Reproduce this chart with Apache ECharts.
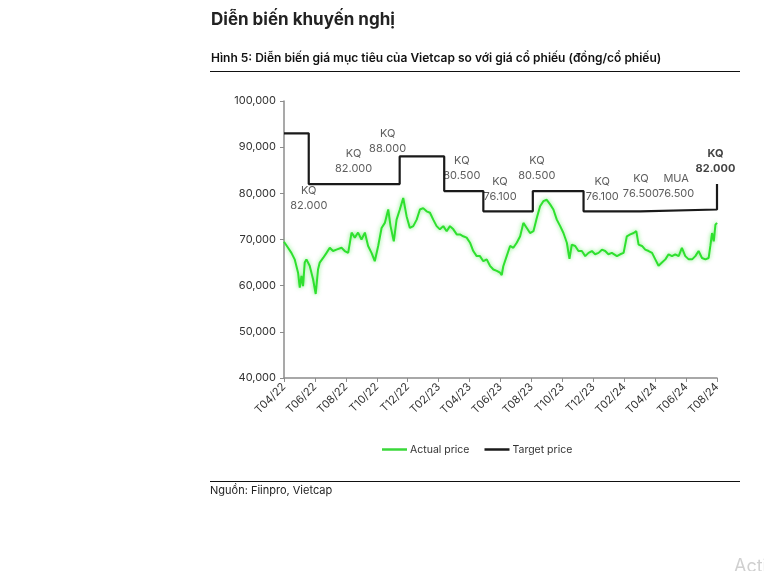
<!DOCTYPE html>
<html>
<head>
<meta charset="utf-8">
<script src="https://cdn.jsdelivr.net/npm/echarts@6/dist/echarts.min.js"></script>
<style>
  html, body { margin: 0; padding: 0; background: #fff; }
  #chart { width: 764px; height: 571px; }
</style>
</head>
<body>
<div id="chart"></div>
<script>
// x values are months since 01/04/2022
const tickLabels = ['T04/22', 'T06/22', 'T08/22', 'T10/22', 'T12/22', 'T02/23', 'T04/23', 'T06/23',
  'T08/23', 'T10/23', 'T12/23', 'T02/24', 'T04/24', 'T06/24', 'T08/24']

const priceMonths = [
  0.00, 0.26, 0.48, 0.69, 0.91, 1.02, 1.13, 1.23, 1.34, 1.45, 1.66, 1.88, 2.05, 2.20, 2.31, 2.53,
  2.75, 2.96, 3.17, 3.39, 3.72, 3.93, 4.15, 4.37, 4.58, 4.79, 5.01, 5.23, 5.44, 5.66, 5.87, 6.09,
  6.31, 6.52, 6.74, 6.89, 7.10, 7.28, 7.49, 7.71, 7.93, 8.14, 8.36, 8.58, 8.79, 9.00, 9.22, 9.44,
  9.65, 9.87, 10.08, 10.30, 10.52, 10.73, 10.95, 11.17, 11.38, 11.59, 11.81, 12.03, 12.24, 12.46,
  12.67, 12.89, 13.11, 13.32, 13.54, 13.76, 13.97, 14.08, 14.18, 14.40, 14.62, 14.83, 15.05, 15.27,
  15.48, 15.70, 15.91, 16.13, 16.35, 16.56, 16.77, 16.99, 17.21, 17.42, 17.64, 17.86, 18.07, 18.29,
  18.46, 18.61, 18.83, 19.04, 19.26, 19.48, 19.69, 19.91, 20.12, 20.34, 20.56, 20.77, 20.98, 21.20,
  21.53, 21.74, 21.96, 22.17, 22.39, 22.61, 22.78, 22.93, 23.15, 23.36, 23.58, 23.80, 24.01, 24.22,
  24.44, 24.66, 24.87, 25.09, 25.30, 25.52, 25.73, 25.95, 26.17, 26.39, 26.60, 26.81, 27.03, 27.25,
  27.46, 27.57, 27.68, 27.79, 27.90, 28.00
]
const actualPrice = [
  69500, 68200, 67100, 65700, 62800, 59600, 62100, 59900, 65000, 65700, 64300, 61400, 58200, 63500, 65000, 66000,
  67100, 68200, 67500, 67800, 68200, 67500, 67100, 71500, 70400, 71500, 70000, 71500, 68600, 67100, 65300, 68600,
  72500, 73600, 76500, 72900, 69600, 74300, 76500, 79000, 75000, 72500, 72900, 74300, 76500, 76800, 76100, 75800,
  74300, 72900, 72200, 72900, 71800, 72900, 72200, 71100, 71100, 70700, 70400, 69300, 67500, 66400,
  66400, 65300, 65700, 64300, 63500, 63200, 62800, 62300, 64200, 66400, 68600, 68200, 69300, 70700,
  73600, 72500, 71400, 71800, 74700, 77200, 78300, 78600, 77600, 76500, 74300, 72900, 71400, 69300,
  65800, 68900, 68600, 67500, 67500, 66400, 67100, 67500, 66800, 67100, 67800, 67500, 66800, 67100,
  66400, 66800, 67100, 70700, 71100, 71400, 71800, 68900, 68600, 67800, 67500, 67100, 65700, 64300,
  65000, 65700, 66800, 66400, 66800, 66400, 68200, 66400, 65700, 65700, 66400, 67500, 66000, 65700,
  66000, 68600, 71400, 69600, 73200, 73600
]

// target price changes
const targetMonths = [0, 1.60, 7.48, 10.36, 12.89, 16.09, 19.37, 23.04, 28]
const targetPrice = [93000, 82000, 88000, 80500, 76100, 80500, 76100, 76500, 82000]

// recommendation notes: [month, price level of the note]
const noteMonths = [1.6, 4.5, 6.7, 11.5, 13.97, 16.35, 20.58, 23.08, 25.36, 27.9]
const noteLevels = [79000, 87000, 91400, 85500, 81000, 85500, 81000, 81500, 81500, 87000]
const noteTexts = ['KQ\n82.000', 'KQ\n82.000', 'KQ\n88.000', 'KQ\n80.500', 'KQ\n76.100', 'KQ\n80.500',
  'KQ\n76.100', 'KQ\n76.500', 'MUA\n76.500', 'KQ\n82.000']

const FONT = 'Inter, "Noto Sans", sans-serif'
const chart = echarts.init(document.getElementById('chart'))

chart.setOption({
  animation: false,
  textStyle: { fontFamily: FONT },
  grid: { left: 284, right: 47, top: 101, bottom: 193 },
  legend: {
    left: 377,
    top: 439,
    itemWidth: 25,
    itemHeight: 2.5,
    itemGap: 15,
    icon: 'rect',
    data: ['Actual price', 'Target price'],
    textStyle: { fontFamily: FONT, fontSize: 10.5, color: '#333', padding: [0, 0, 0, -2] }
  },
  xAxis: {
    type: 'value',
    min: 0,
    max: 28,
    interval: 2,
    splitLine: { show: false },
    axisLine: { lineStyle: { color: '#8c8c8c', width: 1.5 } },
    axisTick: { show: true, length: 4, lineStyle: { color: '#8c8c8c' } },
    axisLabel: {
      rotate: 45,
      margin: 7,
      fontSize: 11,
      color: '#333',
      formatter: v => tickLabels[Math.round(v / 2)]
    }
  },
  yAxis: {
    type: 'value',
    min: 40000,
    max: 100000,
    interval: 10000,
    splitLine: { show: false },
    axisLine: { show: true, lineStyle: { color: '#8c8c8c', width: 1.5 } },
    axisTick: { show: true, length: 4, lineStyle: { color: '#8c8c8c' } },
    axisLabel: {
      fontSize: 11,
      color: '#333',
      margin: 8,
      formatter: v => v.toLocaleString('en-US')
    }
  },
  series: [
    {
      name: 'Actual price',
      type: 'line',
      showSymbol: false,
      color: '#3ad83a',
      lineStyle: { width: 2, color: '#2ee02e', shadowColor: 'rgba(60,230,60,0.7)', shadowBlur: 4 },
      data: priceMonths.map((m, i) => [m, actualPrice[i]])
    },
    {
      name: 'Target price',
      type: 'line',
      step: 'end',
      showSymbol: false,
      color: '#1a1a1a',
      lineStyle: { width: 2.2, color: '#1a1a1a' },
      data: targetMonths.map((m, i) => [m, targetPrice[i]])
    },
    {
      name: 'notes',
      type: 'scatter',
      symbolSize: 0,
      silent: true,
      label: {
        show: true,
        position: 'inside',
        fontFamily: FONT,
        fontSize: 11,
        lineHeight: 15,
        color: '#333',
        formatter: p => noteTexts[p.dataIndex]
      },
      data: noteMonths.map((m, i) => ({
        value: [m, noteLevels[i]],
        label: i === noteMonths.length - 1 ? { fontWeight: 'bold', color: '#111' } : {}
      }))
    }
  ],
  graphic: [
    {
      type: 'text', left: 211, top: 11,
      style: { text: 'Diễn biến khuyến nghị', font: `700 17px ${FONT}`, fill: '#222' }
    },
    {
      type: 'text', left: 211, top: 52,
      style: { text: 'Hình 5: Diễn biến giá mục tiêu của Vietcap so với giá cổ phiếu (đồng/cổ phiếu)', font: `600 12px ${FONT}`, fill: '#111' }
    },
    { type: 'line', shape: { x1: 210, y1: 71.5, x2: 740, y2: 71.5 }, style: { stroke: '#111', lineWidth: 1.2 } },
    { type: 'line', shape: { x1: 210, y1: 481.5, x2: 740, y2: 481.5 }, style: { stroke: '#111', lineWidth: 1.2 } },
    {
      type: 'text', left: 210, top: 485,
      style: { text: 'Nguồn: Fiinpro, Vietcap', font: `11px ${FONT}`, fill: '#222' }
    },
    {
      type: 'text', left: 734, top: 558,
      style: { text: 'Acti', font: `18px ${FONT}`, fill: '#d0d0d0' }
    }
  ]
})
</script>
</body>
</html>
